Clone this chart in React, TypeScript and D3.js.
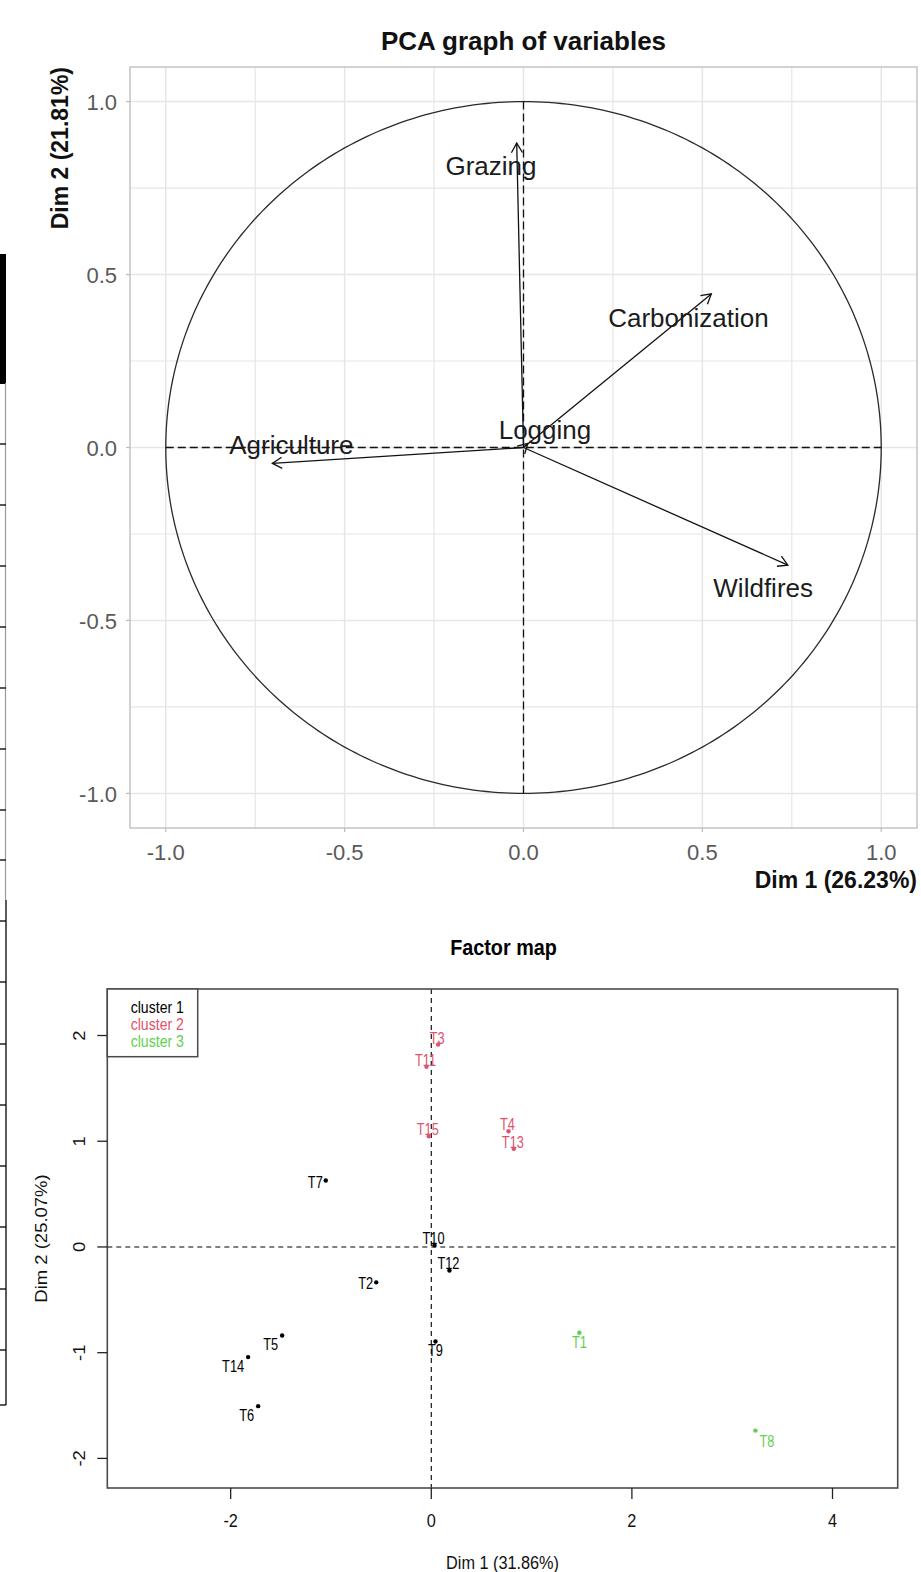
import React from "react";
import * as d3 from "d3";

// ---------- PCA graph of variables ----------
const varNames = ["Grazing", "Carbonization", "Logging", "Agriculture", "Wildfires"];
const varDim1 = [-0.019, 0.525, 0.012, -0.702, 0.739];
const varDim2 = [0.88, 0.444, 0.012, -0.046, -0.34];
const varLabelX = [-0.091, 0.461, 0.06, -0.649, 0.67];
const varLabelY = [0.814, 0.376, 0.053, 0.007, -0.405];
const pcaMajorTicks = [-1, -0.5, 0, 0.5, 1];
const pcaMinorTicks = [-0.75, -0.25, 0.25, 0.75];
const pcaTitle = "PCA graph of variables";
const pcaXTitle = "Dim 1 (26.23%)";
const pcaYTitle = "Dim 2 (21.81%)";

// ---------- Factor map ----------
const indNames = ["T1", "T2", "T3", "T4", "T5", "T6", "T7", "T8", "T9", "T10", "T11", "T12", "T13", "T14", "T15"];
const indDim1 = [1.476, -0.549, 0.068, 0.77, -1.487, -1.726, -1.052, 3.232, 0.042, 0.032, -0.048, 0.181, 0.823, -1.826, -0.025];
const indDim2 = [-0.812, -0.335, 1.915, 1.095, -0.837, -1.506, 0.628, -1.737, -0.894, 0.015, 1.705, -0.222, 0.928, -1.042, 1.047];
const indCluster = [3, 1, 2, 2, 1, 1, 1, 3, 1, 1, 2, 1, 2, 1, 2];
const indLabelPos = ["bottom", "left", "top", "top", "bottomleft", "bottomleft", "left", "bottomright", "bottom", "top", "top", "top", "top", "bottomleft", "top"];
const clusterNames = ["cluster 1", "cluster 2", "cluster 3"];
const clusterColors = ["#000000", "#DF536B", "#61D04F"];
const fmXTicks = [-2, 0, 2, 4];
const fmYTicks = [-2, -1, 0, 1, 2];
const fmTitle = "Factor map";
const fmXTitle = "Dim 1 (31.86%)";
const fmYTitle = "Dim 2 (25.07%)";

// left-edge fragment ticks
const fragTicksUpper = [444, 505, 566, 627, 688, 749, 810];
const fragTicksLower = [860, 921, 982, 1044, 1105, 1166, 1227, 1289, 1350, 1405];

const FONT = "'Liberation Sans', Arial, Helvetica, sans-serif";

function arrowHead(x1: number, y1: number, x2: number, y2: number, len: number) {
  const a = Math.atan2(y2 - y1, x2 - x1);
  const s = Math.PI / 6;
  const p1 = [x2 - len * Math.cos(a - s), y2 - len * Math.sin(a - s)];
  const p2 = [x2 - len * Math.cos(a + s), y2 - len * Math.sin(a + s)];
  return `M${p1[0]},${p1[1]}L${x2},${y2}L${p2[0]},${p2[1]}`;
}

function PcaPlot() {
  const left = 130, right = 917, top = 67, bottom = 828;
  const x = d3.scaleLinear().domain([-1.1, 1.1]).range([left, right]);
  const y = d3.scaleLinear().domain([-1.1, 1.1]).range([bottom, top]);
  const angles = d3.range(0, 361).map((d) => (d * Math.PI) / 180);
  const circle = d3
    .line<number>()
    .x((a) => x(Math.cos(a)))
    .y((a) => y(Math.sin(a)))(angles);
  const grid = "#e6e6e6";
  return (
    <g>
      <text x={(left + right) / 2} y={50} textAnchor="middle" fontFamily={FONT} fontWeight="bold" fontSize={26} fill="#111">
        {pcaTitle}
      </text>
      {pcaMinorTicks.map((t) => (
        <g key={"mn" + t}>
          <line x1={x(t)} x2={x(t)} y1={top} y2={bottom} stroke={grid} strokeWidth={1.2} />
          <line x1={left} x2={right} y1={y(t)} y2={y(t)} stroke={grid} strokeWidth={1.2} />
        </g>
      ))}
      {pcaMajorTicks.map((t) => (
        <g key={"mj" + t}>
          <line x1={x(t)} x2={x(t)} y1={top} y2={bottom} stroke={grid} strokeWidth={1.5} />
          <line x1={left} x2={right} y1={y(t)} y2={y(t)} stroke={grid} strokeWidth={1.5} />
        </g>
      ))}
      <rect x={left} y={top} width={right - left} height={bottom - top} fill="none" stroke="#c4c4c4" strokeWidth={1.5} />
      {pcaMajorTicks.map((t) => (
        <g key={"tl" + t}>
          <line x1={left - 4} x2={left} y1={y(t)} y2={y(t)} stroke="#bbb" strokeWidth={1.2} />
          <line x1={x(t)} x2={x(t)} y1={bottom} y2={bottom + 4} stroke="#bbb" strokeWidth={1.2} />
          <text x={left - 13} y={y(t) + 8.5} textAnchor="end" fontFamily={FONT} fontSize={22} fill="#5a5a5a">
            {t.toFixed(1)}
          </text>
          <text x={x(t)} y={860} textAnchor="middle" fontFamily={FONT} fontSize={22} fill="#5a5a5a">
            {t.toFixed(1)}
          </text>
        </g>
      ))}
      <text x={right} y={888} textAnchor="end" fontFamily={FONT} fontWeight="bold" fontSize={23} fill="#111">
        {pcaXTitle}
      </text>
      <text transform={`translate(68,${top}) rotate(-90)`} textAnchor="end" fontFamily={FONT} fontWeight="bold" fontSize={23} fill="#111">
        {pcaYTitle}
      </text>
      <path d={circle || ""} fill="none" stroke="#2a2a2a" strokeWidth={1.3} />
      <line x1={x(-1)} x2={x(1)} y1={y(0)} y2={y(0)} stroke="#111" strokeWidth={1.3} strokeDasharray="8,4" />
      <line x1={x(0)} x2={x(0)} y1={y(1)} y2={y(-1)} stroke="#111" strokeWidth={1.3} strokeDasharray="8,4" />
      {varNames.map((n, i) => {
        const x1 = x(0), y1 = y(0), x2 = x(varDim1[i]), y2 = y(varDim2[i]);
        return (
          <g key={n}>
            <line x1={x1} y1={y1} x2={x2} y2={y2} stroke="#111" strokeWidth={1.3} />
            <path d={arrowHead(x1, y1, x2, y2, 11)} fill="none" stroke="#111" strokeWidth={1.3} />
            <text x={x(varLabelX[i])} y={y(varLabelY[i])} dy="0.36em" textAnchor="middle" fontFamily={FONT} fontSize={26} fill="#1c1c1c">
              {n}
            </text>
          </g>
        );
      })}
    </g>
  );
}

function FactorMap() {
  const left = 107.3, right = 897.7, top = 989, bottom = 1488;
  const x = d3.scaleLinear().domain([-3.23, 4.65]).range([left, right]);
  const y = d3.scaleLinear().domain([-2.28, 2.44]).range([bottom, top]);
  const sx = 0.88;
  const labelOffset = (pos: string) => {
    switch (pos) {
      case "top": return { dx: -1, dy: -1, anchor: "middle" };
      case "bottom": return { dx: 0, dy: 15, anchor: "middle" };
      case "left": return { dx: -3, dy: 7, anchor: "end" };
      case "bottomleft": return { dx: -4, dy: 15, anchor: "end" };
      case "bottomright": return { dx: 4, dy: 16.5, anchor: "start" };
      default: return { dx: 0, dy: 0, anchor: "middle" };
    }
  };
  return (
    <g fontFamily={FONT}>
      <text transform={`translate(${(left + right) / 2 + 1},955) scale(0.9,1)`} textAnchor="middle" fontWeight="bold" fontSize={22} fill="#000">
        {fmTitle}
      </text>
      <line x1={x(0)} x2={x(0)} y1={top} y2={bottom} stroke="#000" strokeWidth={1.1} strokeDasharray="5,4" />
      <line x1={left} x2={right} y1={y(0)} y2={y(0)} stroke="#000" strokeWidth={1.1} strokeDasharray="5,4" />
      <rect x={left} y={top} width={right - left} height={bottom - top} fill="none" stroke="#4a4a4a" strokeWidth={1.6} />
      {fmXTicks.map((t) => (
        <g key={"x" + t}>
          <line x1={x(t)} x2={x(t)} y1={bottom} y2={bottom + 11} stroke="#222" strokeWidth={1.3} />
          <text transform={`translate(${x(t)},1526.5) scale(${sx},1)`} textAnchor="middle" fontSize={18.5} fill="#111">
            {t}
          </text>
        </g>
      ))}
      {fmYTicks.map((t) => (
        <g key={"y" + t}>
          <line x1={left - 10} x2={left} y1={y(t)} y2={y(t)} stroke="#222" strokeWidth={1.3} />
          <text transform={`translate(85,${y(t)}) rotate(-90) scale(1,${sx})`} textAnchor="middle" fontSize={18.5} fill="#111">
            {t}
          </text>
        </g>
      ))}
      <text transform={`translate(${(left + right) / 2},1569) scale(${sx},1)`} textAnchor="middle" fontSize={18.5} fill="#111">
        {fmXTitle}
      </text>
      <text transform={`translate(47,${(top + bottom) / 2}) rotate(-90) scale(1,${sx})`} textAnchor="middle" fontSize={18.5} fill="#111">
        {fmYTitle}
      </text>
      {/* legend */}
      <rect x={left} y={top} width={90.4} height={67.7} fill="#fff" stroke="#4a4a4a" strokeWidth={1.5} />
      {clusterNames.map((c, i) => (
        <text key={c} transform={`translate(130.7,${1013 + i * 16.8}) scale(${sx},1)`} fontSize={16} fill={clusterColors[i]}>
          {c}
        </text>
      ))}
      {indNames.map((n, i) => {
        const px = x(indDim1[i]), py = y(indDim2[i]);
        const o = labelOffset(indLabelPos[i]);
        const col = clusterColors[indCluster[i] - 1];
        return (
          <g key={n}>
            <circle cx={px} cy={py} r={2.2} fill={col} />
            <text transform={`translate(${px + o.dx},${py + o.dy}) scale(0.8,1)`} textAnchor={o.anchor as any} fontSize={16} fill={col}>
              {n}
            </text>
          </g>
        );
      })}
    </g>
  );
}

function LeftFragment() {
  return (
    <g>
      <rect x={0} y={254} width={6} height={130} fill="#000" />
      <line x1={5.5} x2={5.5} y1={383} y2={900} stroke="#9a9a9a" strokeWidth={1.2} />
      <line x1={6} x2={6} y1={900} y2={1405} stroke="#333" strokeWidth={1.6} />
      {fragTicksUpper.map((t) => (
        <line key={"u" + t} x1={0} x2={6} y1={t} y2={t} stroke="#111" strokeWidth={1.4} />
      ))}
      {fragTicksLower.map((t) => (
        <line key={"l" + t} x1={0} x2={6} y1={t} y2={t} stroke="#111" strokeWidth={1.4} />
      ))}
    </g>
  );
}

export default function App() {
  return (
    <svg
      width={921}
      height={1572}
      viewBox="0 0 921 1572"
      style={{ position: "absolute", left: 0, top: 0, background: "#fff" }}
    >
      <rect x={0} y={0} width={921} height={1572} fill="#fff" />
      <LeftFragment />
      <PcaPlot />
      <FactorMap />
    </svg>
  );
}
